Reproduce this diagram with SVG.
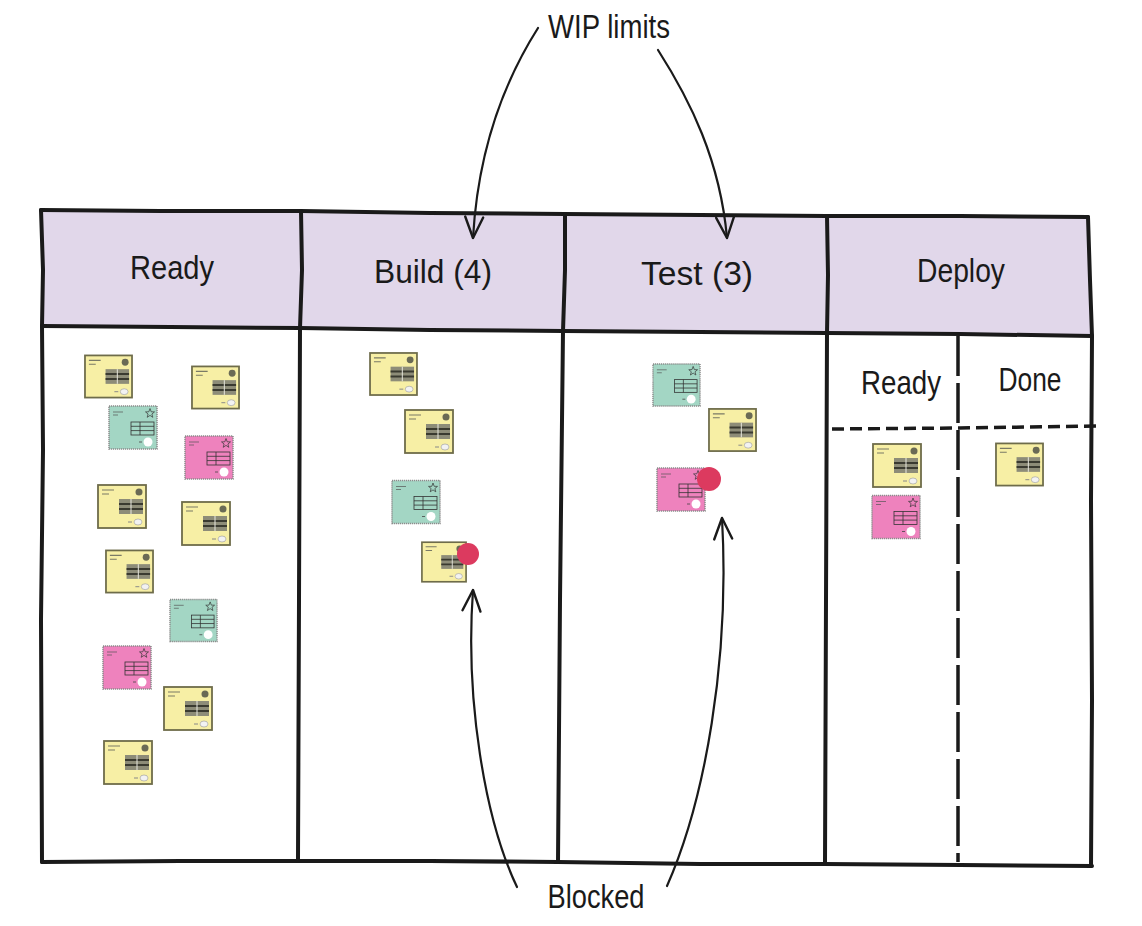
<svg xmlns="http://www.w3.org/2000/svg" xmlns:xlink="http://www.w3.org/1999/xlink" width="1142" height="926" viewBox="0 0 1142 926">
<style>
.ln{fill:none;stroke:#1a1a1a;stroke-width:4;stroke-linecap:round;stroke-linejoin:round}
.dash{fill:none;stroke:#1a1a1a;stroke-width:3.5}
.hdr{fill:#e1d7ea}
.lbl{font-family:"Liberation Sans",Arial,sans-serif;font-size:34px;fill:#1a1a1a;text-anchor:middle}
.arr{fill:none;stroke:#1a1a1a;stroke-width:2.2;stroke-linecap:round}
.dot{fill:#dc3a5f}
</style>
<defs>
<marker id="ah" markerUnits="userSpaceOnUse" viewBox="-24 -13 28 26" markerWidth="28" markerHeight="26" refX="0" refY="0" orient="auto">
<path d="M-21,-9 L0,0 L-21,9" fill="none" stroke="#1a1a1a" stroke-width="2.4" stroke-linecap="round" stroke-linejoin="round"/>
</marker>
<symbol id="cardY" viewBox="0 0 50 45">
<rect x="1" y="1" width="48" height="43" fill="#f7efa5" stroke="#6e6c4a" stroke-width="1.8"/>
<path d="M5,6 h12 M5,10 h7" stroke="#7a7a66" stroke-width="1.2"/>
<circle cx="42" cy="8" r="3.5" fill="#6a6a55"/>
<rect x="22" y="15" width="24" height="15" fill="#8d8c78"/>
<path d="M22,20 h24 M22,25 h24" stroke="#3a3a30" stroke-width="2"/>
<path d="M34,15 v15" stroke="#e8e8e0" stroke-width="1"/>
<ellipse cx="41" cy="38" rx="4" ry="3" fill="#f2f2f2" stroke="#999" stroke-width=".6"/>
<path d="M31,38 h4" stroke="#888" stroke-width="1"/>
</symbol>
<symbol id="cardC" viewBox="0 0 50 45">
<rect x="1" y="1" width="48" height="43" fill="currentColor" stroke="#8c8c8c" stroke-width="1.5" stroke-dasharray="1.2 0.8"/>
<path d="M5,7 h10 M5,10 h5" stroke="#555" stroke-width=".7"/>
<polygon points="42,3.5 43.2,6.8 46.5,6.9 43.9,9 44.8,12.3 42,10.4 39.2,12.3 40.1,9 37.5,6.9 40.8,6.8" fill="none" stroke="#333" stroke-width=".7"/>
<rect x="23" y="17" width="23" height="13" fill="none" stroke="#333" stroke-width=".8"/>
<path d="M23,21.3 h23 M23,25.6 h23 M32,17 v13" stroke="#333" stroke-width=".8"/>
<circle cx="40" cy="37" r="4.5" fill="#fff"/>
<path d="M31,37 h3" stroke="#444" stroke-width=".8"/>
</symbol>
</defs>
<rect width="1142" height="926" fill="#fff"/>

<g id="headers">
<polygon id="hdr-ready" class="hdr" points="41,210 301,211 300,328 42,326"/>
<polygon id="hdr-build" class="hdr" points="301,211 565,214 563,331 300,328"/>
<polygon id="hdr-test" class="hdr" points="565,214 827,216 827,333 563,331"/>
<polygon id="hdr-deploy" class="hdr" points="827,216 1088,217 1092,336 827,333"/>
</g>

<g id="board">
<path class="ln" d="M41,210 L160,211 L301,211 L430,213 L565,214 L700,215 L827,216 L960,216 L1088,217"/>
<path class="ln" d="M41,210 L43,270 L42,326 L43,450 L41,620 L42,862"/>
<path class="ln" d="M42,862 L180,861 L300,861 L430,861 L558,862 L700,864 L825,864 L960,865 L1092,866"/>
<path class="ln" d="M1088,217 L1090,280 L1092,336 L1091,500 L1092,700 L1091,866"/>
<path class="ln" d="M42,326 L170,327 L300,328 L430,330 L563,331 L700,332 L827,333 L960,334 L1092,336"/>
<path class="ln" d="M301,211 L302,270 L300,328 L299,600 L298,861"/>
<path class="ln" d="M565,214 L565,270 L563,331 L560,600 L558,862"/>
<path class="ln" d="M827,216 L828,275 L827,333 L826,600 L825,864"/>
<path class="dash" d="M958,336 L958,862" stroke-dasharray="40 7"/>
<path class="dash" d="M832,429 L960,428 L1097,426" stroke-dasharray="12 6"/>
</g>

<g id="labels">
<text class="lbl" x="172" y="279" textLength="84" lengthAdjust="spacingAndGlyphs">Ready</text>
<text class="lbl" x="433" y="283" textLength="118" lengthAdjust="spacingAndGlyphs">Build (4)</text>
<text class="lbl" x="697" y="285" textLength="112" lengthAdjust="spacingAndGlyphs">Test (3)</text>
<text class="lbl" x="961" y="282" textLength="88" lengthAdjust="spacingAndGlyphs">Deploy</text>
<text class="lbl" x="901" y="394" textLength="80" lengthAdjust="spacingAndGlyphs">Ready</text>
<text class="lbl" x="1030" y="391" textLength="63" lengthAdjust="spacingAndGlyphs">Done</text>
<text class="lbl" x="609" y="38" textLength="122" lengthAdjust="spacingAndGlyphs">WIP limits</text>
<text class="lbl" x="596" y="908" textLength="97" lengthAdjust="spacingAndGlyphs">Blocked</text>
</g>

<g id="cards-ready">
<use id="r1" href="#cardY" x="84" y="354" width="49" height="45"/>
<use id="r2" href="#cardY" x="191" y="365" width="49" height="45"/>
<use id="r3" href="#cardC" x="108" y="405" width="50" height="45" style="color:#a3d6c4"/>
<use id="r4" href="#cardC" x="184" y="435" width="50" height="45" style="color:#ee82bd"/>
<use id="r5" href="#cardY" x="97" y="484" width="50" height="45"/>
<use id="r6" href="#cardY" x="181" y="501" width="50" height="45"/>
<use id="r7" href="#cardY" x="105" y="549" width="49" height="45"/>
<use id="r8" href="#cardC" x="169" y="598" width="49" height="45" style="color:#a3d6c4"/>
<use id="r9" href="#cardC" x="102" y="645" width="50" height="45" style="color:#ee82bd"/>
<use id="r10" href="#cardY" x="163" y="686" width="50" height="45"/>
<use id="r11" href="#cardY" x="103" y="740" width="50" height="45"/>
</g>

<g id="cards-build">
<use id="b1" href="#cardY" x="368" y="352" width="51" height="44"/>
<use id="b2" href="#cardY" x="404" y="409" width="50" height="45"/>
<use id="b3" href="#cardC" x="391" y="479" width="50" height="46" style="color:#a3d6c4"/>
<g id="b4">
<use href="#cardY" x="421" y="540" width="46" height="44"/>
<circle class="dot" cx="468" cy="554" r="11"/>
</g>
</g>

<g id="cards-test">
<use id="t1" href="#cardC" x="652" y="362" width="49" height="46" style="color:#a3d6c4"/>
<use id="t2" href="#cardY" x="708" y="407" width="49" height="46"/>
<g id="t3">
<use href="#cardC" x="656" y="467" width="50" height="45" style="color:#ee82bd"/>
<circle class="dot" cx="709" cy="479" r="12"/>
</g>
</g>

<g id="cards-deploy">
<use id="d1" href="#cardY" x="872" y="443" width="50" height="45"/>
<use id="d2" href="#cardC" x="871" y="494" width="50" height="46" style="color:#ee82bd"/>
<use id="d3" href="#cardY" x="995" y="442" width="49" height="45"/>
</g>

<g id="connectors">
<path class="arr" d="M538,28 C505,80 478,150 473,238" marker-end="url(#ah)"/>
<path class="arr" d="M658,50 C690,100 720,160 727,238" marker-end="url(#ah)"/>
<path class="arr" d="M517,887 C485,820 465,700 473,590" marker-end="url(#ah)"/>
<path class="arr" d="M667,886 C705,800 730,660 722,518" marker-end="url(#ah)"/>
</g>
</svg>
